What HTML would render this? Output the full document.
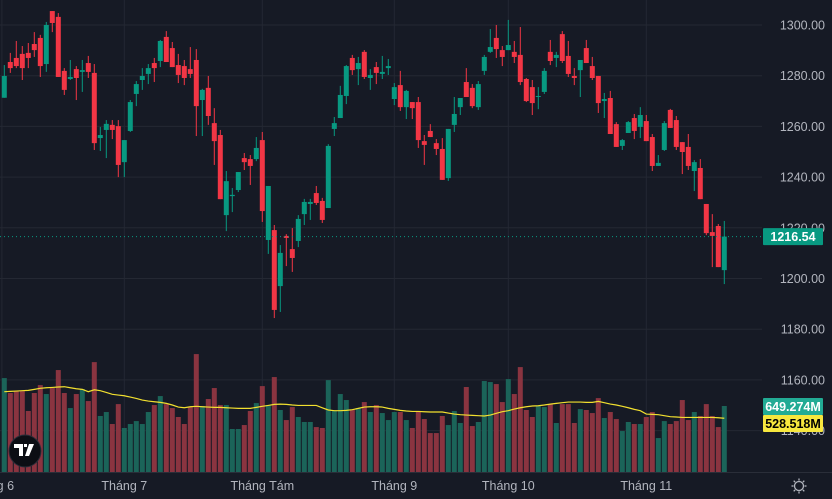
<!DOCTYPE html>
<html><head><meta charset="utf-8"><style>
html,body{margin:0;padding:0;background:#161a25;}
svg{display:block;font-family:"Liberation Sans",sans-serif;}
</style></head><body>
<svg id="chart" width="832" height="499" viewBox="0 0 832 499" xmlns="http://www.w3.org/2000/svg">
<rect x="0" y="0" width="832" height="499" fill="#161a25"/>
<g id="grid"></g>
<g id="vol"></g>
<g id="candles"></g>
<g id="axes"></g>
</svg>
<script>
const opens=[1271.3,1285.4,1287.0,1288.6,1289.0,1292.5,1294.9,1284.6,1305.5,1303.2,1281.9,1278.7,1282.6,1281.5,1285.0,1281.1,1255.4,1258.6,1260.6,1260.1,1245.9,1258.2,1272.8,1278.3,1280.7,1285.0,1285.8,1295.3,1290.9,1284.2,1283.8,1282.6,1286.2,1270.4,1275.2,1261.3,1256.6,1225.0,1232.5,1234.9,1247.5,1247.1,1247.1,1254.6,1215.2,1219.1,1197.0,1216.8,1211.6,1214.8,1225.4,1229.4,1233.7,1230.6,1227.8,1259.0,1263.3,1272.0,1287.0,1282.6,1289.4,1279.1,1283.4,1280.7,1283.0,1270.8,1276.3,1267.6,1269.6,1269.6,1254.2,1258.2,1253.4,1251.1,1239.6,1260.6,1267.6,1277.5,1275.2,1267.6,1281.9,1289.4,1294.9,1290.1,1290.1,1289.4,1288.2,1278.7,1275.5,1271.6,1273.6,1289.4,1287.0,1296.4,1287.8,1279.9,1282.2,1290.9,1283.8,1279.9,1270.0,1271.2,1260.9,1252.3,1257.4,1263.3,1259.8,1262.1,1255.8,1244.4,1250.7,1266.5,1262.5,1253.8,1251.9,1242.4,1243.6,1229.4,1218.3,1220.7,1203.3];
const highs=[1284.2,1289.0,1293.7,1291.7,1292.9,1297.2,1296.1,1301.2,1305.5,1304.7,1283.0,1286.2,1283.8,1286.2,1287.8,1284.6,1259.8,1262.5,1262.5,1262.5,1254.6,1270.4,1277.9,1283.0,1284.6,1287.0,1294.1,1297.6,1293.3,1288.6,1286.2,1291.3,1290.5,1274.8,1279.9,1267.2,1258.6,1242.4,1235.7,1242.0,1249.5,1248.7,1255.8,1257.8,1236.5,1221.1,1213.2,1217.5,1219.9,1225.0,1231.4,1231.4,1236.5,1231.8,1253.0,1263.7,1276.0,1284.2,1288.2,1287.4,1290.1,1282.6,1285.4,1287.8,1286.6,1277.1,1281.9,1274.4,1269.6,1271.6,1256.6,1260.9,1255.0,1255.4,1259.0,1271.6,1271.2,1283.0,1276.7,1277.9,1288.2,1298.4,1300.0,1291.7,1302.0,1293.7,1299.2,1279.1,1278.3,1275.5,1283.0,1294.1,1289.4,1297.6,1293.7,1283.0,1286.2,1294.1,1287.4,1279.9,1273.2,1274.0,1261.7,1255.0,1262.1,1264.9,1267.6,1264.5,1257.0,1248.7,1262.1,1266.9,1264.1,1253.8,1257.0,1246.7,1247.1,1229.4,1225.4,1221.5,1222.7];
const lows=[1271.3,1281.1,1283.0,1278.3,1283.0,1287.4,1279.5,1281.5,1297.2,1279.5,1272.4,1278.3,1270.4,1273.6,1279.1,1250.7,1250.3,1247.5,1255.0,1240.0,1240.0,1257.8,1268.0,1274.4,1276.7,1277.5,1283.4,1285.4,1283.4,1277.1,1276.3,1279.1,1256.2,1256.2,1260.6,1244.8,1231.3,1218.7,1226.2,1234.1,1242.8,1236.9,1246.3,1222.3,1209.7,1184.4,1186.8,1204.9,1202.6,1212.4,1221.1,1223.1,1229.0,1221.9,1227.8,1256.2,1263.3,1268.8,1280.3,1276.3,1278.7,1274.4,1276.7,1278.7,1280.3,1268.4,1266.1,1262.9,1262.9,1251.5,1244.8,1255.8,1248.7,1238.9,1238.5,1257.8,1264.5,1271.6,1267.2,1266.5,1280.3,1289.0,1287.0,1283.8,1290.1,1285.0,1276.3,1269.6,1264.5,1266.8,1272.8,1284.2,1283.4,1285.0,1279.5,1276.3,1271.6,1285.0,1278.3,1265.3,1263.3,1257.0,1251.9,1250.7,1257.4,1255.0,1255.4,1254.2,1242.4,1244.4,1250.3,1259.4,1250.7,1241.2,1242.8,1234.5,1231.3,1217.1,1204.5,1204.5,1197.8];
const closes=[1279.9,1283.0,1283.8,1283.0,1287.0,1290.1,1283.8,1300.0,1300.8,1279.5,1274.4,1279.5,1279.1,1282.2,1281.5,1253.4,1256.6,1261.0,1258.6,1244.8,1254.6,1269.6,1276.7,1279.9,1283.0,1283.0,1293.7,1285.4,1283.4,1280.3,1279.1,1280.7,1268.0,1274.4,1264.1,1254.2,1231.3,1238.4,1233.0,1242.0,1245.9,1244.4,1251.5,1226.6,1236.5,1187.6,1210.1,1216.0,1208.1,1223.5,1230.2,1230.2,1229.8,1223.1,1252.3,1261.3,1272.4,1283.8,1282.2,1285.0,1279.5,1280.3,1281.1,1281.5,1283.8,1275.5,1267.6,1274.0,1267.2,1254.6,1252.7,1255.8,1251.1,1238.9,1259.0,1264.9,1271.2,1271.6,1268.0,1276.7,1287.4,1291.3,1290.5,1287.4,1292.1,1287.4,1277.5,1270.0,1269.2,1272.0,1281.9,1285.8,1288.2,1285.8,1280.7,1279.1,1286.2,1285.0,1279.1,1269.2,1270.8,1257.0,1251.9,1254.6,1261.7,1258.2,1264.5,1254.2,1244.4,1245.6,1261.3,1259.4,1251.9,1249.9,1244.4,1245.9,1231.3,1217.9,1216.8,1204.5,1216.54];
const volumes=[924,777,796,796,600,777,855,767,826,1003,777,629,767,816,698,1081,551,590,472,668,433,472,501,472,590,659,747,668,629,541,472,639,1160,649,718,826,659,659,423,423,462,600,678,845,659,934,610,511,639,541,492,492,442,433,904,600,767,708,610,629,688,590,659,580,511,590,590,511,433,600,521,383,383,551,462,600,482,836,452,492,895,885,865,688,914,767,1032,610,541,649,639,668,482,668,668,482,619,610,580,727,531,590,521,403,492,472,472,541,590,334,501,472,501,708,511,590,551,668,551,442,649.274];
const volMA=[790,793,796,800,803,813,823,829,832,836,839,829,819,813,790,809,800,783,764,757,750,737,724,708,698,691,685,675,659,639,632,642,646,642,639,636,636,632,629,626,626,626,636,646,655,665,668,665,659,655,655,655,655,632,610,603,603,606,613,626,639,642,642,639,626,616,606,600,596,596,593,590,590,590,580,570,564,560,557,554,551,560,577,593,603,619,632,642,649,652,659,668,675,682,688,688,688,685,685,695,682,668,659,646,632,616,603,570,567,564,554,544,541,537,537,537,537,537,537,534,528.518];
const priceTicks=[1300,1280,1260,1240,1220,1200,1180,1160,1140];
const monthLabels=["ng 6","Tháng 7","Tháng Tám","Tháng 9","Tháng 10","Tháng 11"];
const monthIdx=[-0.4,20,43,65,84,107];

const NS="http://www.w3.org/2000/svg";
const PLOT_R=762;
const xS=i=>4.3+6*i;
const yP=p=>25+(1300-p)*2.535;
const VOL_BASE=472, VOL_K=66/649.274;
const yV=v=>VOL_BASE-v*VOL_K;
function mk(tag,attrs,parent){const e=document.createElementNS(NS,tag);for(const k in attrs)e.setAttribute(k,attrs[k]);parent.appendChild(e);return e;}
const grid=document.getElementById('grid'),vol=document.getElementById('vol'),cg=document.getElementById('candles'),ax=document.getElementById('axes');

priceTicks.forEach(t=>{const l=mk('line',{x1:0,x2:PLOT_R,y1:yP(t),y2:yP(t),stroke:'#242833','stroke-width':1},grid);

});
monthIdx.forEach(i=>{const l=mk('line',{x1:xS(i),x2:xS(i),y1:0,y2:472,stroke:'#242833','stroke-width':1},grid);

});

volumes.forEach((v,i)=>{const up=closes[i]>=opens[i];
const r=mk('rect',{x:xS(i)-2.5,y:yV(v),width:5,height:VOL_BASE-yV(v),fill:up?'#1b6459':'#8a3440'},vol);

});
const ma=mk('polyline',{points:volMA.map((v,i)=>xS(i)+','+yV(v)).join(' '),fill:'none',stroke:'#f2e02f','stroke-width':1.2},vol);



opens.forEach((o,i)=>{const c=closes[i],up=c>=o,col=up?'#089981':'#f23645',x=xS(i);
const w=mk('line',{x1:x,x2:x,y1:yP(highs[i]),y2:yP(lows[i]),stroke:col,'stroke-width':1},cg);


const top=yP(Math.max(o,c)),h=Math.max(1,yP(Math.min(o,c))-top);
const b=mk('rect',{x:x-2.5,y:top,width:5,height:h,fill:col},cg);

});

const last=closes[closes.length-1];
const pl=mk('line',{x1:0,x2:PLOT_R,y1:yP(last),y2:yP(last),stroke:'#089981','stroke-width':1,'stroke-dasharray':'1 3'},ax);


mk('line',{x1:0,x2:832,y1:472.5,y2:472.5,stroke:'#2a2e39','stroke-width':1},ax);
priceTicks.forEach(t=>{const tx=mk('text',{x:825,y:yP(t)+4.5,'text-anchor':'end','font-size':12.5,fill:'#b2b5be'},ax);tx.textContent=t.toFixed(2);

});
monthLabels.forEach((m,k)=>{const tx=mk('text',{x:xS(monthIdx[k]),y:490,'text-anchor':'middle','font-size':12.5,fill:'#b2b5be'},ax);tx.textContent=m;

});

function badge(y,bg,fg,txt,name){const g=mk('g',{},ax);


mk('rect',{x:763,y:y-8.5,width:60,height:17,fill:bg,rx:1},g);
const t=mk('text',{x:793,y:y+4.5,'text-anchor':'middle','font-size':12.5,fill:fg,'font-weight':'bold'},g);t.textContent=txt;}
badge(yP(last),'#089981','#ffffff',last.toFixed(2),'last-price-badge');
badge(406.5,'#22ab94','#ffffff',volumes[volumes.length-1].toFixed(3)+'M','last-volume-badge');
badge(423.5,'#f7e73e','#000000',volMA[volMA.length-1].toFixed(3)+'M','volume-ma-badge');

const logo=mk('g',{},ax);


mk('circle',{cx:25,cy:451,r:16,fill:'#0c0e14',stroke:'#2a2e39','stroke-width':1},logo);
mk('path',{d:'M14 444h9v12h-4v-8h-5z M24 444h3v3h-3z M29 444h5l-5 12h-4z',fill:'#ffffff'},logo);
const gear=mk('g',{},ax);


mk('circle',{cx:799,cy:486,r:4.5,fill:'none',stroke:'#b2b5be','stroke-width':1.3},gear);
[0,45,90,135,180,225,270,315].forEach(a=>{const r=a*Math.PI/180;mk('line',{x1:799+5.5*Math.cos(r),y1:486+5.5*Math.sin(r),x2:799+7.5*Math.cos(r),y2:486+7.5*Math.sin(r),stroke:'#b2b5be','stroke-width':1.3},gear);});
</script>
</body></html>
